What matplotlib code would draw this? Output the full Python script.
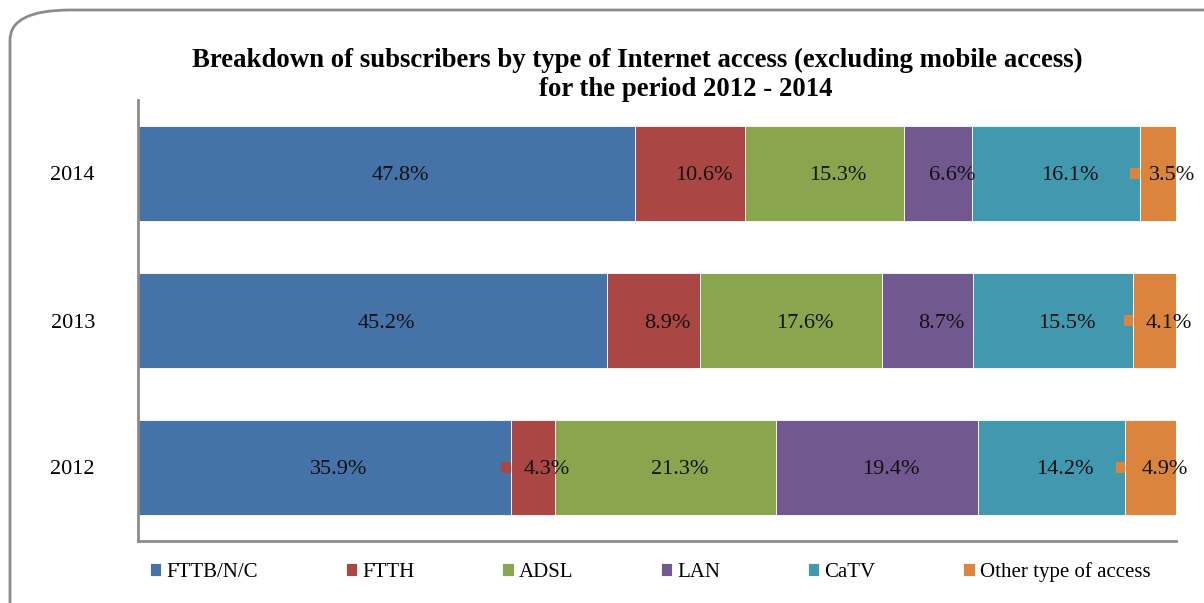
import numpy as np
import matplotlib.pyplot as plt
from matplotlib.patches import FancyBboxPatch, Rectangle

plt.rcParams['font.family'] = ['Liberation Serif', 'DejaVu Serif']

years = ['2012', '2013', '2014']
types = ['FTTB/N/C', 'FTTH', 'ADSL', 'LAN', 'CaTV', 'Other type of access']
shares = {
    'FTTB/N/C': [35.9, 45.2, 47.8],
    'FTTH': [4.3, 8.9, 10.6],
    'ADSL': [21.3, 17.6, 15.3],
    'LAN': [19.4, 8.7, 6.6],
    'CaTV': [14.2, 15.5, 16.1],
    'Other type of access': [4.9, 4.1, 3.5],
}
colors = ['#4572A7', '#AA4643', '#89A54E', '#71588F', '#4198AF', '#DB843D']

fig = plt.figure(figsize=(12.04, 6.03), dpi=100)

# rounded chart frame, clipped by the figure edges on the right and bottom
frame = FancyBboxPatch((10 / 1204, -0.2), 1.3, 1 - 10 / 603 + 0.2,
                       boxstyle='round,pad=0,rounding_size=0.05',
                       transform=fig.transFigure, fill=False,
                       edgecolor='#8c8c8c', linewidth=2, zorder=0)
fig.patches.append(frame)

ax = fig.add_axes([138 / 1204, 1 - 541 / 603, 1038 / 1204, 441 / 603])

y = np.arange(len(years))
left = np.zeros(len(years))
total = np.sum([shares[t] for t in types], axis=0)
for t, c in zip(types, colors):
    vals = np.array(shares[t]) / total * 100
    ax.barh(y, vals, left=left, height=0.64, color=c, edgecolor='white',
            linewidth=0.6, label=t)
    for yi, v, l, lab in zip(y, vals, left, shares[t]):
        # labels sit a little right of the segment centre
        ax.annotate(f'{lab:.1f}%', (l + v / 2, yi), xytext=(10, 0),
                    textcoords='offset points', ha='center',
                    va='center_baseline', fontsize=16, color='#111111')
        # leader stub for narrow segments
        if v < 5:
            ax.add_patch(Rectangle((l - 0.9, yi - 0.035), 0.9, 0.07,
                                   color=c, linewidth=0))
    left += vals

ax.set_xlim(0, 100)
ax.set_ylim(-0.5, 2.5)
ax.set_yticks(y)
ax.set_yticklabels(years, fontsize=16)
ax.set_xticks([])
ax.tick_params(axis='y', length=0, pad=31)
for s in ['top', 'right']:
    ax.spines[s].set_visible(False)
for s in ['left', 'bottom']:
    ax.spines[s].set_color('#8c8c8c')
    ax.spines[s].set_linewidth(2)

fig.text(637 / 1204, 1 - 60 / 603,
         'Breakdown of subscribers by type of Internet access (excluding mobile access)',
         ha='center', va='center', fontsize=19.3, fontweight='bold')
fig.text(686 / 1204, 1 - 90 / 603, 'for the period 2012 - 2014',
         ha='center', va='center', fontsize=19.3, fontweight='bold')

fig.legend(loc='center left', bbox_to_anchor=(150 / 1204, 1 - 572 / 603),
           ncol=6, frameon=False, fontsize=15, handlelength=0.55,
           handleheight=0.55, handletextpad=0.25, columnspacing=4.2,
           borderaxespad=0, borderpad=0)

fig.savefig('out.png', dpi=100)
